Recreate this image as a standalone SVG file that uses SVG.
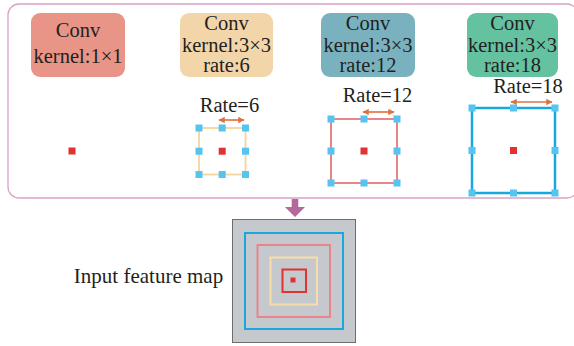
<svg xmlns="http://www.w3.org/2000/svg" width="574" height="346" viewBox="0 0 574 346">
  <style>
    .t { font-family: "Liberation Serif", "Times New Roman", serif; font-size: 20.5px; fill: #231f20; text-anchor: middle; }
    .dot { fill: #e03232; }
    .tap { fill: #55c4f0; }
    .rate { stroke: #e0703f; stroke-width: 1.6; fill: none; }
  </style>
  <defs>
    <marker id="ah" viewBox="0 0 10 10" refX="9" refY="5" markerWidth="4" markerHeight="4" orient="auto-start-reverse">
      <path d="M0,0 L10,5 L0,10 Z" fill="#e0703f"/>
    </marker>
    <rect id="tap" class="tap" x="-3.5" y="-3.5" width="7" height="7"/>
  </defs>

  <rect x="0" y="0" width="574" height="346" fill="#ffffff"/>

  <!-- panel holding the four branches -->
  <rect id="panel" x="8" y="4" width="570" height="194" rx="11" fill="none" stroke="#d9a3c4" stroke-width="1.3"/>

  <!-- branch 1: 1x1 conv -->
  <g id="conv1x1">
    <rect x="31" y="13" width="94" height="64" rx="9" fill="#e89587"/>
    <text class="t" x="78" y="37">Conv</text>
    <text class="t" x="78" y="63">kernel:1×1</text>
    <rect class="dot" x="68.5" y="147.5" width="7" height="7"/>
  </g>

  <!-- branch 2: 3x3 conv, rate 6 -->
  <g id="conv3x3r6">
    <rect x="180" y="13" width="93" height="64" rx="9" fill="#f2d6aa"/>
    <text class="t" x="226.5" y="29.5">Conv</text>
    <text class="t" x="226.5" y="51.5">kernel:3×3</text>
    <text class="t" x="226.5" y="72">rate:6</text>
    <text class="t" x="229.5" y="112">Rate=6</text>
    <line class="rate" x1="219" y1="120" x2="244" y2="120" marker-start="url(#ah)" marker-end="url(#ah)"/>
    <rect x="199" y="128" width="46.5" height="46.5" fill="none" stroke="#f5d8a6" stroke-width="2"/>
    <use href="#tap" x="199" y="128"/><use href="#tap" x="222.2" y="128"/><use href="#tap" x="245.5" y="128"/>
    <use href="#tap" x="199" y="151.2"/><use href="#tap" x="245.5" y="151.2"/>
    <use href="#tap" x="199" y="174.5"/><use href="#tap" x="222.2" y="174.5"/><use href="#tap" x="245.5" y="174.5"/>
    <rect class="dot" x="218.7" y="147.7" width="7" height="7"/>
  </g>

  <!-- branch 3: 3x3 conv, rate 12 -->
  <g id="conv3x3r12">
    <rect x="321" y="13" width="94" height="64" rx="9" fill="#79b2be"/>
    <text class="t" x="368" y="29.5">Conv</text>
    <text class="t" x="368" y="51.5">kernel:3×3</text>
    <text class="t" x="368" y="72">rate:12</text>
    <text class="t" x="377.5" y="102">Rate=12</text>
    <line class="rate" x1="363" y1="112" x2="394" y2="112" marker-start="url(#ah)" marker-end="url(#ah)"/>
    <rect x="331" y="119" width="66" height="64" fill="none" stroke="#e8858a" stroke-width="2"/>
    <use href="#tap" x="331" y="119"/><use href="#tap" x="364" y="119"/><use href="#tap" x="397" y="119"/>
    <use href="#tap" x="331" y="151"/><use href="#tap" x="397" y="151"/>
    <use href="#tap" x="331" y="183"/><use href="#tap" x="364" y="183"/><use href="#tap" x="397" y="183"/>
    <rect class="dot" x="360.5" y="147.5" width="7" height="7"/>
  </g>

  <!-- branch 4: 3x3 conv, rate 18 -->
  <g id="conv3x3r18">
    <rect x="467" y="13" width="91" height="64" rx="9" fill="#65c2a0"/>
    <text class="t" x="512.5" y="29.5">Conv</text>
    <text class="t" x="512.5" y="51.5">kernel:3×3</text>
    <text class="t" x="512.5" y="72">rate:18</text>
    <text class="t" x="528" y="93">Rate=18</text>
    <line class="rate" x1="511" y1="102" x2="552" y2="102" marker-start="url(#ah)" marker-end="url(#ah)"/>
    <rect x="472" y="108" width="83" height="85" fill="none" stroke="#18a8df" stroke-width="2.5"/>
    <use href="#tap" x="472" y="108"/><use href="#tap" x="513.5" y="108"/><use href="#tap" x="555" y="108"/>
    <use href="#tap" x="472" y="150.5"/><use href="#tap" x="555" y="150.5"/>
    <use href="#tap" x="472" y="193"/><use href="#tap" x="513.5" y="193"/><use href="#tap" x="555" y="193"/>
    <rect class="dot" x="510" y="147" width="7" height="7"/>
  </g>

  <!-- connector: input map feeds the branches -->
  <g id="connectors">
    <path d="M291.7,199 H298.3 V207 H305 L295,217 L285,207 H291.7 Z" fill="#b5689c"/>
  </g>

  <!-- input feature map with nested receptive fields -->
  <g id="input-map">
    <text class="t" x="148.5" y="283" style="font-size:21px">Input feature map</text>
    <rect x="232.5" y="219.5" width="123" height="123" fill="#c5c8cd" stroke="#6d6d6d" stroke-width="1"/>
    <rect x="245" y="233" width="98" height="96" fill="none" stroke="#18a8df" stroke-width="2"/>
    <rect x="257.5" y="245" width="72.5" height="72" fill="none" stroke="#e8858a" stroke-width="2"/>
    <rect x="270.5" y="257.5" width="46.5" height="47" fill="none" stroke="#f8dcaa" stroke-width="2"/>
    <rect x="282.5" y="269.5" width="23.5" height="22.5" fill="none" stroke="#e03232" stroke-width="2"/>
    <rect class="dot" x="290.5" y="277.5" width="5" height="5"/>
  </g>
</svg>
